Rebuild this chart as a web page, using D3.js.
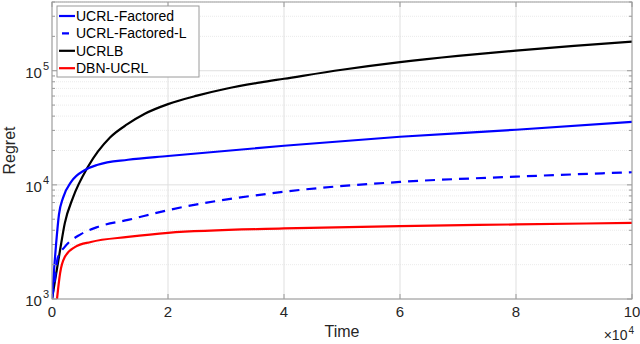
<!DOCTYPE html>
<html>
<head>
<meta charset="utf-8">
<script src="https://cdn.jsdelivr.net/npm/d3@7"></script>
<style>
  body { margin: 0; background: #fff; }
  text { font-family: "Liberation Sans", Arial, sans-serif; fill: #262626; }
</style>
</head>
<body>
<div id="chart-area"></div>
<script>
// data (time steps, regret)
var seriesNames = ["UCRL-Factored", "UCRL-Factored-L", "UCRLB", "DBN-UCRL"];

var ucrlFactoredT = [0, 700, 1200, 1900, 3300, 5700, 7900, 13100, 20000, 40000, 60000, 80000, 100000];
var ucrlFactoredV = [1000, 3000, 5500, 7700, 10600, 13500, 15000, 16600, 17900, 22000, 26400, 30400, 35700];

var ucrlFactoredLT = [0, 500, 1000, 2200, 5000, 8000, 13100, 20000, 40000, 60000, 80000, 100000];
var ucrlFactoredLV = [1000, 1500, 2300, 2860, 3700, 4300, 4930, 6000, 8700, 10600, 11800, 12900];

var ucrlbT = [0, 1400, 2200, 3600, 6200, 10000, 13000, 16000, 20000, 25000, 30000, 36000, 40000, 50000, 60000, 70000, 80000, 90000, 100000];
var ucrlbV = [1000, 2700, 4600, 7700, 14400, 26000, 34000, 42000, 51000, 60500, 69500, 79000, 85000, 102000, 119000, 135000, 150000, 165000, 179500];

var dbnUcrlT = [860, 1400, 2200, 4000, 6700, 13100, 20000, 40000, 60000, 80000, 100000];
var dbnUcrlV = [1000, 1690, 2330, 2860, 3160, 3500, 3800, 4150, 4350, 4500, 4640];

var xTicks = [0, 20000, 40000, 60000, 80000, 100000];
var xTickLabels = ["0", "2", "4", "6", "8", "10"];
var yTicks = [1e3, 1e4, 1e5];
var yTickExp = ["3", "4", "5"];

var seriesT = [ucrlFactoredT, ucrlFactoredLT, ucrlbT, dbnUcrlT];
var seriesV = [ucrlFactoredV, ucrlFactoredLV, ucrlbV, dbnUcrlV];
var colors = ["#0000ff", "#0000ff", "#000000", "#ff0000"];
var dashes = [null, "10,7", null, null];

//Set Margins, width and height
var W = 640, H = 344;
var margin = {top: 2, bottom: 45, left: 52, right: 8};
var width = W - margin.left - margin.right;
var height = H - margin.top - margin.bottom;

var svg = d3.select("#chart-area")
    .append("svg")
        .attr("width", W)
        .attr("height", H)

var canvas = svg.append("g")
    .attr("transform", "translate(" + margin.left + "," + margin.top + ")")

//Scales
var x = d3.scaleLinear().domain([0, 100000]).range([0, width])
var y = d3.scaleLog().domain([1000, 400000]).range([height, 0])

//minor values for log grid
var minor = []
for (var e = 3; e <= 5; e++) {
    for (var k = 2; k <= 9; k++) {
        var v = k * Math.pow(10, e)
        if (v <= 400000) minor.push(v)
    }
}

//Grid
canvas.selectAll(".ygrid-minor").data(minor).enter().append("line")
    .attr("x1", 0).attr("x2", width)
    .attr("y1", d => y(d)).attr("y2", d => y(d))
    .attr("stroke", "#e6e6e6").attr("stroke-width", 0.8)
    .attr("stroke-dasharray", "1,1")

canvas.selectAll(".ygrid").data(yTicks).enter().append("line")
    .attr("x1", 0).attr("x2", width)
    .attr("y1", d => y(d)).attr("y2", d => y(d))
    .attr("stroke", "#dfdfdf").attr("stroke-width", 1)

canvas.selectAll(".xgrid").data(xTicks).enter().append("line")
    .attr("x1", d => x(d)).attr("x2", d => x(d))
    .attr("y1", 0).attr("y2", height)
    .attr("stroke", "#dfdfdf").attr("stroke-width", 1)

//Lines
var line = d3.line()
    .x(d => x(d[0]))
    .y(d => y(d[1]))
    .curve(d3.curveMonotoneX)

var clip = svg.append("clipPath").attr("id", "clip")
    .append("rect").attr("width", width).attr("height", height)

var order = [2, 0, 1, 3]
order.forEach(i => {
    var pts = seriesT[i].map((t, j) => [t, seriesV[i][j]])
    canvas.append("path")
        .datum(pts)
        .attr("clip-path", "url(#clip)")
        .attr("fill", "none")
        .attr("stroke", colors[i])
        .attr("stroke-width", 2.2)
        .attr("stroke-dasharray", dashes[i])
        .attr("d", line)
})

//Axes box and ticks
var axisColor = "#9a9a9a"
canvas.append("rect")
    .attr("width", width).attr("height", height)
    .attr("fill", "none").attr("stroke", axisColor).attr("stroke-width", 1)

var tickLen = 5, minorLen = 3
xTicks.forEach(t => {
    canvas.append("line").attr("x1", x(t)).attr("x2", x(t)).attr("y1", height).attr("y2", height - tickLen).attr("stroke", axisColor)
    canvas.append("line").attr("x1", x(t)).attr("x2", x(t)).attr("y1", 0).attr("y2", tickLen).attr("stroke", axisColor)
})
yTicks.forEach(t => {
    canvas.append("line").attr("x1", 0).attr("x2", tickLen).attr("y1", y(t)).attr("y2", y(t)).attr("stroke", axisColor)
    canvas.append("line").attr("x1", width).attr("x2", width - tickLen).attr("y1", y(t)).attr("y2", y(t)).attr("stroke", axisColor)
})
minor.forEach(t => {
    canvas.append("line").attr("x1", 0).attr("x2", minorLen).attr("y1", y(t)).attr("y2", y(t)).attr("stroke", axisColor)
    canvas.append("line").attr("x1", width).attr("x2", width - minorLen).attr("y1", y(t)).attr("y2", y(t)).attr("stroke", axisColor)
})

//Tick labels
canvas.selectAll(".xlab").data(xTicks).enter().append("text")
    .attr("x", d => x(d))
    .attr("y", height + 18)
    .attr("text-anchor", "middle")
    .attr("font-size", "15px")
    .text((d, i) => xTickLabels[i])

yTicks.forEach((t, i) => {
    var lab = canvas.append("text")
        .attr("x", -3)
        .attr("y", y(t) + 7)
        .attr("text-anchor", "end")
        .attr("font-size", "15px")
    lab.append("tspan").text("10")
    lab.append("tspan").attr("dy", -8).attr("dx", 1).attr("font-size", "11px").text(yTickExp[i])
})

//Exponent label
var ex = canvas.append("text")
    .attr("x", width + 2)
    .attr("y", height + 41)
    .attr("text-anchor", "end")
    .attr("font-size", "14px")
ex.append("tspan").text("\u00d710")
ex.append("tspan").attr("dy", -6).attr("dx", 1).attr("font-size", "10px").text("4")

//Axis labels
canvas.append("text")
    .attr("x", width * 0.5)
    .attr("y", height + 38)
    .attr("text-anchor", "middle")
    .attr("font-size", "16px")
    .text("Time")

canvas.append("text")
    .attr("x", -(height * 0.5))
    .attr("y", -37)
    .attr("text-anchor", "middle")
    .attr("font-size", "16px")
    .attr("transform", "rotate(-90)")
    .text("Regret")

//Legend
var lg = svg.append("g").attr("transform", "translate(57,6)")
lg.append("rect")
    .attr("width", 142).attr("height", 71)
    .attr("fill", "#fff").attr("stroke", "#9a9a9a").attr("stroke-width", 1)
seriesNames.forEach((name, i) => {
    var yy = 10 + i * 17.4
    lg.append("line")
        .attr("x1", 2).attr("x2", 18)
        .attr("y1", yy).attr("y2", yy)
        .attr("stroke", colors[i]).attr("stroke-width", 2.2)
        .attr("stroke-dasharray", dashes[i] ? "0,3,7,20" : null)
    lg.append("text")
        .attr("x", 19).attr("y", yy + 5)
        .attr("font-size", "14px")
        .style("fill", "#000")
        .text(name)
})
</script>
</body>
</html>
